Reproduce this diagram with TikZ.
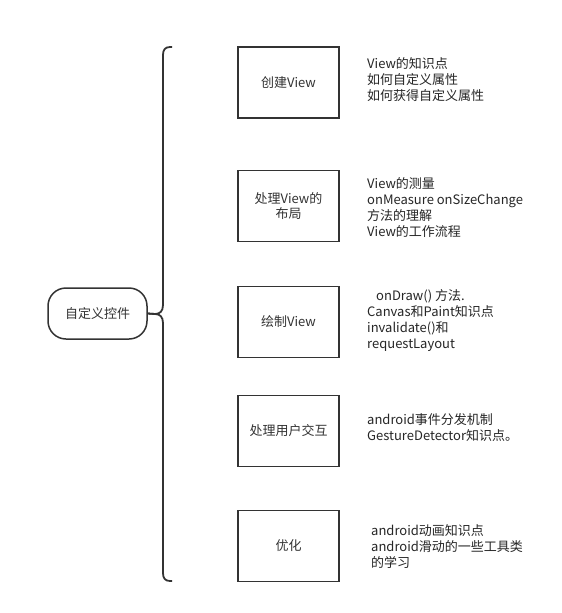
\documentclass[tikz,border=0pt]{standalone}
\usepackage{fontspec}
\setmainfont{Noto Sans CJK SC}
\begin{document}
\begin{tikzpicture}[x=1pt,y=-1pt,
  ink/.style={draw=black!80, line width=1.5pt},
  stepbox/.style={ink, minimum width=101pt, minimum height=71pt, inner sep=0pt, text=black!80, font=\fontsize{13}{14.5}\selectfont, align=center},
  rootbox/.style={ink, rounded corners=18pt, minimum width=99pt, minimum height=51pt, inner sep=0pt, text=black!80, font=\fontsize{13}{14.5}\selectfont},
  note/.style={anchor=west, inner sep=0pt, align=left, text=black!85, font=\fontsize{13}{16}\selectfont}
]
\useasboundingbox (0,0) rectangle (562,613);
\fill[white] (0,0) rectangle (562,613);

\node[rootbox] (root) at (97.5,313.5) {自定义控件};

\node[stepbox] (b1) at (288.5,82.5) {创建View};
\node[stepbox] (b2) at (288.5,206) {处理View的\\布局};
\node[stepbox] (b3) at (288.5,322) {绘制View};
\node[stepbox] (b4) at (288.5,431) {处理用户交互};
\node[stepbox] (b5) at (288.5,546) {优化};

\coordinate (bt) at (172,47);
\coordinate (bb) at (172,581);
\draw[ink, line width=1.8pt, line join=round]
  (bt) -- (170,47) .. controls (165,47) and (163,50) .. (163,55)
  -- (163,305) .. controls (163,311) and (160,314) .. (155,314) -- (root.east);
\draw[ink, line width=1.8pt, line join=round]
  (root.east) -- (155,314) .. controls (160,314) and (163,317) .. (163,323)
  -- (163,573) .. controls (163,578) and (165,581) .. (170,581) -- (bb);

\node[note] (t1) at (367,79.5) {View的知识点\\如何自定义属性\\如何获得自定义属性};
\node[note] (t2) at (367,207.5) {View的测量\\onMeasure onSizeChange\\方法的理解\\View的工作流程};
\node[note] (t3) at (367,320.5) {\hspace*{9pt}onDraw() 方法.\\Canvas和Paint知识点\\invalidate()和\\requestLayout};
\node[note] (t4) at (367,427.5) {android事件分发机制\\GestureDetector知识点。};
\node[note] (t5) at (371,546.5) {android动画知识点\\android滑动的一些工具类\\的学习};
\end{tikzpicture}
\end{document}
